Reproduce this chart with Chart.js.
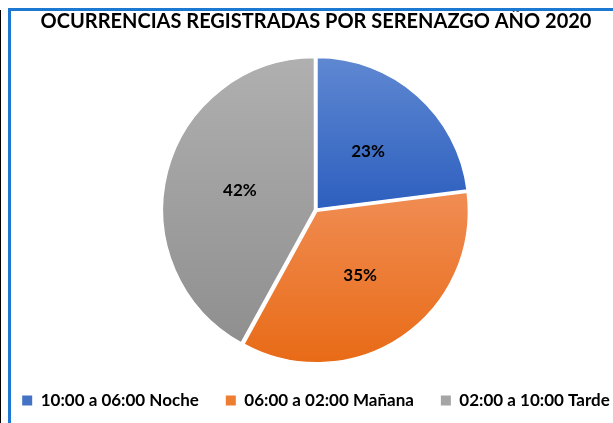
<!DOCTYPE html>
<html>
<head>
<meta charset="utf-8">
<script src="https://cdn.jsdelivr.net/npm/chart.js@4"></script>
<style>
  html, body { margin: 0; padding: 0; background: #fff; overflow: hidden; width: 613px; height: 423px; }
  #wrap { position: absolute; left: -10px; top: 0; width: 652px; height: 423px; }
  .line { position: absolute; z-index: 2; }
  #edge { left: 0; top: 10px; width: 1px; height: 413px; background: #000; }
  #bTop { left: 8px; top: 8px; width: 620px; height: 3px; background: #1c78d0; }
  #bLeft { left: 8px; top: 8px; width: 3px; height: 420px; background: #1c78d0; }
</style>
</head>
<body>
<div id="wrap"><canvas id="pieCV"></canvas></div>
<div class="line" id="edge"></div>
<div class="line" id="bTop"></div>
<div class="line" id="bLeft"></div>
<script>
const labels = ['10:00 a 06:00 Noche', '06:00 a 02:00 Mañana', '02:00 a 10:00 Tarde'];
const values = [23, 35, 42];
const colorsTop = ['#6089d2', '#f08c52', '#b0b0b0'];
const colorsBottom = ['#2d5fbf', '#e86a15', '#8f8f8f'];
const legendColors = ['#4472c4', '#ed7d31', '#a5a5a5'];

(function(){
  const ctx = document.getElementById('pieCV');

  // vertical gradient per slice, roughly spanning each slice's own height
  const gradSpan = [[-1, 0], [-0.1, 1], [-1, 0.87]];
  function sliceFill(context) {
    const chart = context.chart;
    const area = chart.chartArea;
    const i = context.dataIndex;
    if (!area) return legendColors[i];
    const cy = (area.top + area.bottom) / 2;
    const r = Math.min(area.right - area.left, area.bottom - area.top) / 2;
    const g = chart.ctx.createLinearGradient(0, cy + gradSpan[i][0] * r, 0, cy + gradSpan[i][1] * r);
    g.addColorStop(0, colorsTop[i]);
    g.addColorStop(1, colorsBottom[i]);
    return g;
  }

  const pctLabels = {
    id: 'pctLabels',
    afterDatasetsDraw(chart) {
      const c = chart.ctx;
      const data = chart.data.datasets[0].data;
      const total = data.reduce((a, b) => a + b, 0);
      c.save();
      c.font = 'bold 17px Lato';
      c.fillStyle = '#000';
      c.textAlign = 'center';
      c.textBaseline = 'middle';
      chart.getDatasetMeta(0).data.forEach((arc, i) => {
        const p = arc.tooltipPosition();
        c.fillText(Math.round(data[i] / total * 100) + '%', p.x, p.y);
      });
      c.restore();
    }
  };

  new Chart(ctx, {
    type: 'pie',
    data: {
      labels: labels,
      datasets: [{
        data: values,
        backgroundColor: sliceFill,
        borderColor: '#fff',
        borderWidth: 1.5,
        offset: 6
      }]
    },
    options: {
      responsive: true,
      maintainAspectRatio: false,
      animation: false,
      layout: {
        padding: { top: 0, bottom: 4, left: 0, right: 0 }
      },
      plugins: {
        title: {
          display: true,
          text: 'OCURRENCIAS REGISTRADAS POR SERENAZGO AÑO 2020',
          color: '#000',
          font: { family: 'Lato', size: 20, weight: 'bold' },
          padding: { top: 10, bottom: 21 }
        },
        legend: {
          position: 'bottom',
          labels: {
            color: '#000',
            font: { family: 'Lato', size: 17, weight: 'bold' },
            boxWidth: 10,
            boxHeight: 10,
            padding: 27,
            generateLabels: function(chart) {
              return labels.map((t, i) => ({
                text: t,
                fillStyle: legendColors[i],
                strokeStyle: legendColors[i],
                lineWidth: 0,
                index: i
              }));
            }
          }
        },
        tooltip: { enabled: false }
      }
    },
    plugins: [pctLabels]
  });
})();
</script>
</body>
</html>
